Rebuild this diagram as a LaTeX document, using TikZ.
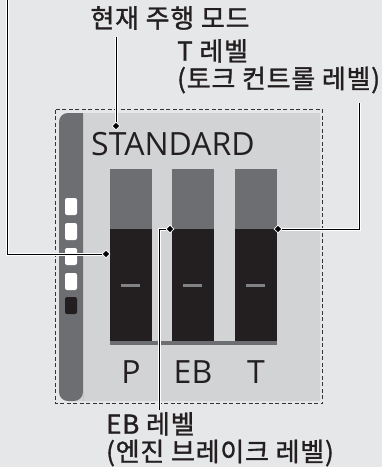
\documentclass[tikz,border=0pt]{standalone}
\usepackage{fontspec}
\usetikzlibrary{shapes.geometric}
\newfontfamily\krfont[LetterSpace=3,FakeBold=1.2]{Noto Sans CJK KR}
\newfontfamily\dispfont{Open Sans}
\definecolor{bggray}{HTML}{E6E7E8}
\definecolor{panelgray}{HTML}{D1D3D4}
\definecolor{darkgray}{HTML}{6D6E71}
\definecolor{barblack}{HTML}{231F20}
\definecolor{markgray}{HTML}{808285}
\tikzset{
  leader/.style={preaction={draw=white,line width=3pt},draw=black,line width=1pt},
  leaddot/.style={diamond,fill=black,draw=white,line width=0.8pt,inner sep=0pt,minimum size=8pt},
  label kr/.style={font=\krfont\fontsize{26}{27.5}\selectfont,text=barblack,inner sep=0pt,align=left},
  disp/.style={font=\dispfont\fontsize{32}{34}\selectfont,text=barblack,inner sep=0pt},
  lamp/.style={rounded corners=2pt,fill=white}
}
\begin{document}
\begin{tikzpicture}[x=1pt,y=-1pt]
    \useasboundingbox[fill=bggray] (0,0) rectangle (382,467);

    %panel
    \fill[panelgray,rounded corners=9pt] (59,113) -- (59,401) -- (140,401) [sharp corners] -- (320,401) -- (320,113) -- (100,113) [rounded corners=9pt] -- cycle;
    \fill[darkgray,rounded corners=9pt] (83,113) [sharp corners] -- (83,113) [rounded corners=9pt] -- (59,113) -- (59,401) -- (83,401) [sharp corners] -- (83,401) -- cycle;
    \draw[line width=1.2pt,dash pattern=on 4pt off 2.5pt,black!80] (55.5,109.5) rectangle (322.5,403.5);

    %lamps
    \foreach \y in {198,223,248,273}
        \fill[lamp] (65,\y) rectangle (77,\y+17);
    \fill[lamp,fill=barblack] (65,297) rectangle (77,314);

    %bars
    \foreach \x/\name in {110/P,172/EB,235/T}{
        \fill[darkgray] (\x,169) rectangle (\x+42,229);
        \fill[barblack] (\x,229) rectangle (\x+42,341);
        \fill[markgray] (\x+11,284) rectangle (\x+30,287);
        \node[disp] (bar\name) at (\x+21,372) {\name};
    }
    \fill[darkgray] (110,341) rectangle (277,345);

    \node[disp,anchor=west] (mode) at (91,144) {STANDARD};

    %labels
    \node[label kr] (lmode) at (170,18) {현재 주행 모드};
    \node[label kr,anchor=north west] (lT) at (177,39) {T 레벨\\(토크 컨트롤 레벨)};
    \node[label kr,anchor=north west] (lEB) at (106,412) {EB 레벨\\(엔진 브레이크 레벨)};

    %leaders
    \coordinate (cmode) at (116,37);
    \coordinate (cP) at (7,0);
    \coordinate (cT) at (359,103);
    \coordinate (cEB) at (159,410);
    \node[leaddot] (dmode) at (116,126) {};
    \node[leaddot] (dP) at (106,254) {};
    \node[leaddot] (dT) at (278,229) {};
    \node[leaddot] (dEB) at (170,229) {};
    \draw[leader] (cmode) -- (dmode);
    \draw[leader] (cP) |- (dP);
    \draw[leader] (cT) |- (dT);
    \draw[leader] (cEB) |- (dEB);
\end{tikzpicture}
\end{document}
